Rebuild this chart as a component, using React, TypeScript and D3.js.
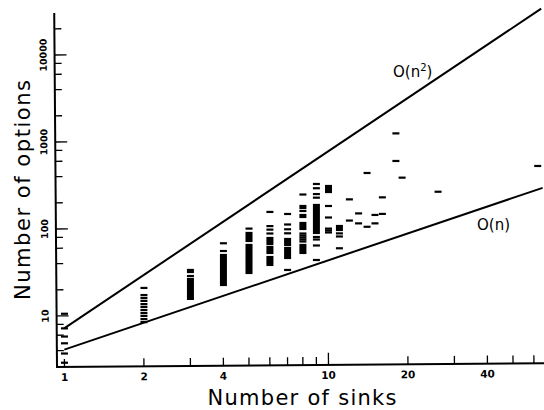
import React from 'react'
import * as d3 from 'd3'

// number of sinks per net, and the option counts found for each
const sinkCounts = [1, 2, 3, 4, 5, 6, 7, 8, 9, 10, 11, 12, 13, 14, 15, 16, 18, 19, 26, 62]
const optionCounts: number[][] = [
  [2.9, 3.7, 4.85, 5.8, 7.2, 10.6],
  [8.5, 9.2, 10, 10.8, 11.7, 12.7, 13.7, 14.9, 16.1, 17.4, 21],
  [15.7, 16.5, 17.4, 18.4, 19.4, 20.4, 21.5, 22.7, 23.9, 25.3, 26.6, 28.8, 32, 33.8],
  [22.7, 23.9, 25.3, 26.6, 28.1, 29.6, 31.2, 32.9, 34.7, 36.6, 38.6, 40.7, 42.9, 45.2, 47.6, 50.2, 55.8, 68.5],
  [31.2, 32.9, 34.7, 36.6, 38.6, 40.7, 42.9, 45.2, 47.6, 50.2, 53, 55.8, 58.9, 62.1, 65.5, 72.8, 76.7, 80.9, 85.3, 90, 101],
  [38.6, 40.7, 42.9, 45.2, 47.6, 53, 55.8, 58.9, 62.1, 67.2, 70.9, 74.7, 78.8, 88.7, 98.3, 108, 157],
  [33.8, 46.4, 48.9, 51.6, 54.4, 57.4, 60.5, 65.5, 69.1, 72.8, 76.7, 89.2, 99.2, 112.6, 148.7],
  [53, 55.8, 58.9, 62.1, 65.5, 71.8, 75.7, 79.8, 84.1, 88.7, 100, 105.4, 111.2, 117.2, 137.4, 144.8, 161, 174.3, 183.8, 249],
  [44, 64.6, 75.7, 80.9, 90, 94.8, 100, 105.4, 111.2, 117.2, 123.6, 130.3, 137.4, 144.8, 152.8, 161, 169.9, 179.1, 188.8, 229, 252, 294, 329],
  [91.2, 96.1, 101, 135.5, 183.8, 266, 281, 296, 312],
  [60, 82, 89, 97.4, 102.6, 108.2],
  [125, 219],
  [116, 151],
  [106, 440],
  [116, 145],
  [149, 231],
  [605, 1256],
  [389],
  [268],
  [530],
]

const xTicks = [1, 2, 3, 4, 5, 6, 7, 8, 9, 10, 20, 30, 40, 50, 60]
const xTickLabels = [1, 2, 4, 10, 20, 40]
const yTicks = [4, 6, 8, 10, 20, 40, 60, 80, 100, 200, 400, 600, 800, 1000, 2000, 4000, 6000, 8000, 10000, 20000]
const yTickLabels = [10, 100, 1000, 10000]

// bounds drawn as c * n^k
const boundCoef = [7.2, 4.1]
const boundPower = [2, 1]

const W = 544
const H = 410
const font = 'DejaVu Sans, sans-serif'

export default function App() {
  const x = d3.scaleLog().domain([0.937, 65.5]).range([57, 544])
  const y = d3.scaleLog().domain([2.59, 30400]).range([367, 13])
  const [x0, x1] = x.range()
  const [y0, y1] = y.range()

  const boundPath = (c: number, k: number) =>
    d3
      .line<number>()
      .x((n) => x(n))
      .y((n) => y(c * Math.pow(n, k)))([1, x.domain()[1]])

  return (
    <svg
      width={W}
      height={H}
      style={{ position: 'absolute', left: 0, top: 0, background: '#fff' }}
    >
      {/* scanned figure is tilted a little */}
      <g transform={`rotate(-0.45, ${x0}, ${y0})`}>
        <line x1={x0} x2={x0} y1={y0 + 1} y2={y1} stroke="#000" strokeWidth={2} />
        <line x1={x0 - 1} x2={x1} y1={y0} y2={y0} stroke="#000" strokeWidth={2} />
        {xTicks.map((t) => (
          <line
            key={'xt' + t}
            x1={x(t)}
            x2={x(t)}
            y1={y0}
            y2={y0 - (t === 10 ? 12 : 8)}
            stroke="#000"
            strokeWidth={1.3}
          />
        ))}
        {xTickLabels.map((t) => (
          <text
            key={'xl' + t}
            x={x(t)}
            y={y0 + 14}
            textAnchor="middle"
            fontFamily={font}
            fontWeight="bold"
            fontSize={10.5}
          >
            {t}
          </text>
        ))}
        {yTicks.map((t) => (
          <line
            key={'yt' + t}
            x1={x0}
            x2={x0 + (yTickLabels.includes(t) ? 12 : 7)}
            y1={y(t)}
            y2={y(t)}
            stroke="#000"
            strokeWidth={1.3}
          />
        ))}
        {yTickLabels.map((t) => (
          <text
            key={'yl' + t}
            transform={`translate(${x0 - 8}, ${y(t)}) rotate(-90)`}
            textAnchor="middle"
            fontFamily={font}
            fontWeight="bold"
            fontSize={9.5}
          >
            {t}
          </text>
        ))}
        {boundCoef.map((c, i) => (
          <path
            key={'b' + i}
            d={boundPath(c, boundPower[i]) || ''}
            fill="none"
            stroke="#000"
            strokeWidth={2}
          />
        ))}
      </g>

      {sinkCounts.map((n, i) =>
        optionCounts[i].map((v, j) => (
          <line
            key={n + '-' + j}
            x1={x(n) - 3.5}
            x2={x(n) + 3.5}
            y1={y(v)}
            y2={y(v)}
            stroke="#000"
            strokeWidth={2.2}
          />
        ))
      )}

      <text x={393} y={77} fontFamily={font} fontSize={15}>
        O(n<tspan dy={-6} fontSize={10}>2</tspan>
        <tspan dy={6}>)</tspan>
      </text>
      <text x={477} y={230} fontFamily={font} fontSize={15}>
        O(n)
      </text>

      <text
        x={302}
        y={405}
        textAnchor="middle"
        fontFamily={font}
        fontSize={21}
        textLength={189}
        lengthAdjust="spacing"
      >
        Number of sinks
      </text>
      <text
        transform="translate(30, 190) rotate(-90)"
        textAnchor="middle"
        fontFamily={font}
        fontSize={21}
        textLength={220}
        lengthAdjust="spacing"
      >
        Number of options
      </text>
    </svg>
  )
}
